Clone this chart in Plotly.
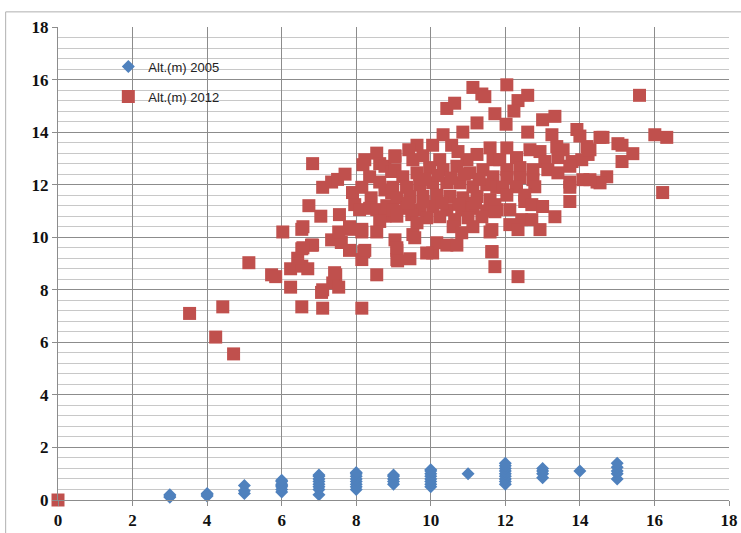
import plotly.graph_objects as go

# 2005 series (blue diamonds)
x2005 = [3, 3, 3,
         4, 4, 4,
         5, 5, 5,
         6, 6, 6, 6, 6, 6, 6,
         7, 7, 7, 7, 7, 7, 7, 7,
         8, 8, 8, 8, 8, 8, 8, 8,
         9, 9, 9, 9, 9,
         10, 10, 10, 10, 10, 10, 10, 10,
         11,
         12, 12, 12, 12, 12, 12, 12, 12, 12,
         13, 13, 13, 13,
         14,
         15, 15, 15, 15, 15]
y2005 = [0.1, 0.15, 0.2,
         0.15, 0.2, 0.25,
         0.25, 0.35, 0.55,
         0.3, 0.4, 0.5, 0.55, 0.6, 0.7, 0.75,
         0.2, 0.4, 0.5, 0.6, 0.7, 0.8, 0.9, 0.95,
         0.4, 0.5, 0.6, 0.7, 0.8, 0.9, 1.0, 1.05,
         0.6, 0.7, 0.8, 0.9, 0.95,
         0.5, 0.6, 0.7, 0.8, 0.9, 1.0, 1.1, 1.15,
         1.0,
         0.6, 0.7, 0.8, 0.9, 1.0, 1.1, 1.2, 1.3, 1.4,
         0.85, 1.0, 1.1, 1.2,
         1.1,
         0.8, 1.0, 1.1, 1.25, 1.4]

# 2012 series (red squares)
x2012 = [0.0,
         3.53, 4.42, 4.23, 4.71, 5.12, 5.73, 5.84, 6.24, 6.24, 6.54, 7.1, 8.15,
         6.54, 6.8, 6.7, 6.54, 6.43, 6.03, 6.54, 7.34, 7.6, 7.82, 7.45, 7.37,
         7.53, 7.07, 7.1, 8.15, 8.2, 7.82, 8.15,
         6.83, 7.1, 7.34, 7.5, 7.7, 6.73, 7.05, 7.55, 6.57, 7.82, 8.15, 7.53,
         6.83, 6.57, 8.23, 8.55, 7.42, 8.23, 8.55, 8.18, 8.36, 8.63, 8.77,
         8.95, 9.04, 7.9, 8.15, 8.63, 8.77, 8.95, 7.96, 8.09, 8.4, 8.36, 8.55,
         8.82, 8.77, 8.63, 9.04, 9.04, 9.09, 9.09, 8.55,
         11.13, 11.37, 11.45, 10.43, 10.64, 11.72, 11.24, 10.86, 10.33, 9.63,
         10.05, 9.41, 9.04, 9.79, 10.56, 10.73, 11.59, 11.24, 10.24, 9.52,
         10.97, 11.67,
         9.04, 9.25, 9.63, 9.97, 10.33, 10.7, 11.05, 11.4, 11.67,
         8.98, 9.35, 9.7, 10.05, 10.43, 10.78, 11.13, 11.5, 11.77,
         9.09, 9.44, 9.79, 10.16, 10.51, 10.86, 11.24, 11.59,
         8.98, 9.35, 9.7, 10.05, 10.43, 10.83, 11.13, 11.5, 11.77,
         9.09, 9.49, 9.89, 10.24, 10.64, 11.0, 11.37,
         9.63, 10.6, 10.83, 11.13, 11.59, 9.52, 9.57, 9.09, 10.05, 10.16,
         10.43, 10.7, 9.11, 9.44, 9.89, 11.64, 11.72,
         9.85, 10.2, 10.55, 10.9, 11.3, 9.4, 9.8, 10.3, 10.75, 11.2,
         12.04, 12.34, 12.6, 12.23, 12.02, 13.0, 13.33, 12.6, 13.25, 13.92,
         14.0, 14.54, 12.04, 12.66, 12.93, 13.38, 13.55, 14.19, 14.22,
         11.85, 12.3, 13.06, 13.41, 13.79, 14.05,
         12.04, 12.39, 12.74, 13.14, 13.41, 13.73,
         12.04, 12.39, 12.74, 13.73, 14.08, 14.46,
         11.94, 12.3, 12.79, 13.73, 12.04, 12.52,
         11.72, 12.52, 12.71, 13.0, 13.73, 11.72, 12.12, 13.33, 12.44, 12.71,
         12.12, 12.34, 12.93, 11.64, 11.64, 12.34,
         15.6, 14.62, 15.02, 15.13, 15.42, 15.13, 16.01, 16.33, 14.72, 14.54,
         16.22, 14.27, 14.27]
y2012 = [0.0,
         7.1, 7.35, 6.2, 5.56, 9.03, 8.57, 8.5, 8.8, 8.1, 7.35, 7.3, 7.3,
         9.56, 9.7, 8.8, 8.9, 9.2, 10.2, 10.3, 9.9, 9.8, 9.5, 8.57, 8.26,
         8.1, 7.9, 8.0, 9.15, 9.45, 10.3, 10.2,
         12.8, 11.9, 12.1, 12.2, 12.4, 11.2, 10.8, 10.86, 10.4, 10.4, 10.3, 10.2,
         9.7, 9.6, 9.5, 8.57, 8.65, 12.95, 13.2, 12.76, 12.3, 12.8, 12.7,
         12.5, 13.1, 11.7, 11.9, 12.1, 11.8, 11.7, 11.24, 11.05, 11.5, 11.1, 11.05,
         11.2, 10.8, 10.6, 11.0, 9.9, 9.5, 9.15, 10.2,
         15.7, 15.45, 15.35, 14.9, 15.1, 14.7, 14.35, 14.0, 13.9, 13.5,
         13.5, 13.33, 13.07, 13.1, 13.5, 13.26, 13.4, 13.15, 12.95, 12.95,
         12.95, 12.95,
         12.57, 12.3, 12.45, 12.65, 12.57, 12.7, 12.45, 12.57, 12.3,
         11.9, 11.9, 12.0, 12.07, 12.07, 12.07, 11.92, 12.0, 11.9,
         11.5, 11.55, 11.55, 11.6, 11.55, 11.5, 11.55, 11.43,
         11.05, 11.1, 11.05, 11.17, 11.05, 11.05, 11.1, 11.0, 11.05,
         10.8, 10.86, 10.74, 10.78, 10.67, 10.74, 10.78,
         10.55, 10.4, 10.17, 10.4, 10.2, 10.1, 9.98, 9.6, 9.4, 9.79,
         9.7, 9.7, 9.1, 9.18, 9.4, 9.45, 8.88,
         12.2, 12.35, 12.25, 12.4, 12.2, 11.3, 11.35, 11.3, 11.25, 11.3,
         15.8, 15.2, 15.4, 14.8, 14.3, 14.47, 14.6, 14.0, 13.9, 14.1,
         13.85, 13.8, 13.4, 13.33, 13.26, 13.45, 13.33, 13.45, 13.15,
         12.95, 13.03, 12.88, 13.03, 12.88, 12.95,
         12.57, 12.65, 12.57, 12.57, 12.45, 12.7,
         12.27, 12.27, 12.19, 12.1, 12.19, 12.1,
         11.9, 11.92, 11.92, 11.9, 11.6, 11.6,
         11.24, 11.36, 11.24, 11.17, 11.36, 10.97, 11.05, 10.78, 10.67, 10.67,
         10.48, 10.29, 10.29, 10.29, 9.45, 8.5,
         15.4, 13.8, 13.56, 13.5, 13.18, 12.88, 13.9, 13.8, 12.3, 12.07,
         11.7, 13.33, 12.19]

fig = go.Figure()
fig.add_trace(go.Scatter(
    x=x2005, y=y2005, mode="markers", name="Alt.(m) 2005",
    legendgroup="a", cliponaxis=False,
    marker=dict(symbol="diamond", size=10, color="#4F81BD", line=dict(width=0)),
))
fig.add_trace(go.Scatter(
    x=x2012, y=y2012, mode="markers", name="Alt.(m) 2012",
    legendgroup="b", cliponaxis=False,
    marker=dict(symbol="square", size=13, color="#C0504D", line=dict(width=0)),
))

tickfont = dict(family="Liberation Sans Narrow", size=17, color="#111111", weight="bold")

fig.update_layout(
    width=741, height=533,
    margin=dict(l=58, r=12, t=27, b=33, autoexpand=False),
    paper_bgcolor="white", plot_bgcolor="white",
    showlegend=True,
    legend=dict(x=0.075, y=0.948, xanchor="left", yanchor="top",
                bgcolor="rgba(0,0,0,0)", tracegroupgap=10,
                font=dict(family="Liberation Sans", size=13, color="#222222")),
    xaxis=dict(range=[0, 18], dtick=2, tick0=0, showgrid=True, gridcolor="#8c8c8c",
               gridwidth=1, zeroline=False, showline=True, linecolor="#8c8c8c",
               ticks="outside", ticklen=5, tickcolor="#8c8c8c", automargin=False,
               tickfont=tickfont, mirror=False),
    yaxis=dict(range=[0, 18], dtick=2, tick0=0, showgrid=True, gridcolor="#8c8c8c",
               gridwidth=1, zeroline=False, showline=True, linecolor="#8c8c8c",
               ticks="outside", ticklen=5, tickcolor="#8c8c8c", automargin=False,
               tickfont=tickfont,
               minor=dict(dtick=0.4, tick0=0, showgrid=True, gridcolor="#c8c8c8",
                          gridwidth=1)),
    shapes=[dict(type="rect", xref="paper", yref="paper",
                 x0=-0.078, x1=1.05, y0=-0.2, y1=1.032,
                 line=dict(color="#b0b0b0", width=1), layer="below")],
)

fig.write_html("out.html")
